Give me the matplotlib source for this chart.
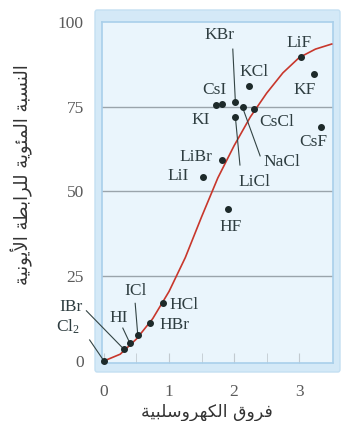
import matplotlib
matplotlib.use('Agg')
import matplotlib.pyplot as plt
from matplotlib.patches import FancyBboxPatch

# --- data ---
compounds = ['Cl2', 'IBr', 'HI', 'ICl', 'HBr', 'HCl', 'HF', 'LiI', 'LiBr', 'LiCl',
             'KI', 'CsI', 'KBr', 'NaCl', 'CsCl', 'KCl', 'KF', 'CsF', 'LiF']
en_diff = [0.0, 0.31, 0.40, 0.52, 0.71, 0.90, 1.91, 1.52, 1.82, 2.02,
           1.72, 1.82, 2.02, 2.13, 2.31, 2.23, 3.23, 3.34, 3.03]
ionic_pct = [0.0, 3.4, 5.2, 7.6, 11.1, 17.0, 44.7, 54.4, 59.3, 71.9,
             75.6, 75.9, 76.3, 74.8, 74.3, 81.2, 84.7, 68.9, 89.7]

curve_x = [0, 0.25, 0.5, 0.75, 1.0, 1.25, 1.5, 1.75, 2.0, 2.25, 2.5, 2.75, 3.0, 3.25, 3.5]
curve_y = [0, 2.0, 6.5, 12.5, 20.5, 30.5, 42.5, 54, 63.5, 72, 79, 85, 89.5, 92, 93.5]

x_ticks = [0, 1, 2, 3]
y_ticks = [0, 25, 50, 75, 100]
grid_y = [25, 50, 75]

x_title = 'فروق الكهروسلبية'
y_title = 'النسبة المئوية للرابطة الأيونية'

# label placement (text centre) and leader lines
label_pos = {
    'LiF': (3.0, 93.8), 'KBr': (1.78, 96.2), 'KCl': (2.31, 85.3), 'KF': (3.09, 80),
    'CsI': (1.69, 80), 'KI': (1.48, 71.1), 'CsCl': (2.66, 70.5), 'CsF': (3.22, 64.6),
    'NaCl': (2.74, 58.7), 'LiCl': (2.32, 52.8), 'LiBr': (1.42, 60.2), 'LiI': (1.14, 54.6),
    'HF': (1.94, 39.5), 'HCl': (1.23, 16.5), 'HBr': (1.08, 10.6), 'ICl': (0.48, 20.5),
    'HI': (0.23, 12.7), 'IBr': (-0.51, 15.9), 'Cl2': (-0.55, 10),
}
leader_start = {
    'KBr': (1.98, 92), 'NaCl': (2.40, 60.5), 'LiCl': (2.09, 57.8), 'Cl2': (-0.22, 6.2),
    'IBr': (-0.27, 14.8), 'HI': (0.29, 9.7), 'ICl': (0.48, 17),
}

# --- simple arabic shaping (matplotlib does no joining itself) ---
FORMS = {
    'ا': ('\ufe8d', '\ufe8e', None, None),
    'أ': ('\ufe83', '\ufe84', None, None),
    'ب': ('\ufe8f', '\ufe90', '\ufe91', '\ufe92'),
    'ة': ('\ufe93', '\ufe94', None, None),
    'ر': ('\ufead', '\ufeae', None, None),
    'س': ('\ufeb1', '\ufeb2', '\ufeb3', '\ufeb4'),
    'ط': ('\ufec1', '\ufec2', '\ufec3', '\ufec4'),
    'ف': ('\ufed1', '\ufed2', '\ufed3', '\ufed4'),
    'ق': ('\ufed5', '\ufed6', '\ufed7', '\ufed8'),
    'ك': ('\ufed9', '\ufeda', '\ufedb', '\ufedc'),
    'ل': ('\ufedd', '\ufede', '\ufedf', '\ufee0'),
    'م': ('\ufee1', '\ufee2', '\ufee3', '\ufee4'),
    'ن': ('\ufee5', '\ufee6', '\ufee7', '\ufee8'),
    'ه': ('\ufee9', '\ufeea', '\ufeeb', '\ufeec'),
    'و': ('\ufeed', '\ufeee', None, None),
    'ي': ('\ufef1', '\ufef2', '\ufef3', '\ufef4'),
    'ئ': ('\ufe89', '\ufe8a', '\ufe8b', '\ufe8c'),
}
LAM_ALEF = {'ا': ('\ufefb', '\ufefc'), 'أ': ('\ufef7', '\ufef8')}


def shape(text):
    letters = []
    i = 0
    while i < len(text):
        c = text[i]
        if c == 'ل' and i + 1 < len(text) and text[i + 1] in LAM_ALEF:
            letters.append(('LA', text[i + 1]))
            i += 2
        else:
            letters.append((c, None))
            i += 1

    def joins_next(item):
        return item[0] in FORMS and FORMS[item[0]][2] is not None

    def joins_prev(item):
        return item[0] == 'LA' or item[0] in FORMS

    res = []
    for k, item in enumerate(letters):
        c, a = item
        p = k > 0 and joins_next(letters[k - 1]) and joins_prev(item)
        n = k + 1 < len(letters) and joins_next(item) and joins_prev(letters[k + 1])
        if c == 'LA':
            res.append(LAM_ALEF[a][1 if p else 0])
        elif c in FORMS:
            f = FORMS[c]
            res.append(f[3] if (p and n) else f[1] if p else f[2] if n else f[0])
        else:
            res.append(c)
    return ''.join(reversed(res))


serif = ['Liberation Serif', 'DejaVu Serif']
W, H = 346, 421

fig = plt.figure(figsize=(W / 100, H / 100), dpi=100)

# light blue outer band behind the plot box
band = FancyBboxPatch((95 / W, 1 - 372 / H), 245 / W, 362 / H,
                      boxstyle='round,pad=0,rounding_size=0.006',
                      transform=fig.transFigure, facecolor='#d4e9f7',
                      edgecolor='#c3dff2', lw=1, zorder=-1)
fig.patches.append(band)

ax = fig.add_axes([102 / W, 1 - 363 / H, 231 / W, 341 / H])
ax.set_zorder(1)
ax.set_facecolor('#eaf5fc')
for s in ax.spines.values():
    s.set_color('#a9cfea')
    s.set_linewidth(1.2)

ax.set_xlim(-0.03, 3.52)
ax.set_ylim(-0.6, 100)

for gy in grid_y:
    ax.axhline(gy, color='#9aa4ab', lw=1.0, zorder=1)

ax.plot(curve_x, curve_y, color='#c8372c', lw=1.2, zorder=3)
ax.plot(en_diff, ionic_pct, 'o', color='#1d2a2a', ms=4, zorder=4, clip_on=False)

pts = dict(zip(compounds, zip(en_diff, ionic_pct)))
for name, (sx, sy) in leader_start.items():
    px, py = pts[name]
    ax.plot([sx, px], [sy, py], color='#334444', lw=0.8, zorder=3, clip_on=False)

for name, (lx, ly) in label_pos.items():
    txt = r'$\mathregular{Cl_2}$' if name == 'Cl2' else name
    ax.text(lx, ly, txt, ha='center', va='center', fontsize=12.5,
            family=serif, color='#2e3d40', zorder=5, clip_on=False)

ax.set_xticks(x_ticks)
ax.set_xticks([0.5, 1.5, 2.5], minor=True)
ax.set_yticks(y_ticks)
ax.tick_params(axis='x', which='both', direction='in', length=7, color='#c2cad0',
               pad=15, labelsize=12.5, labelcolor='#5a5a5a')
ax.tick_params(axis='y', length=0, pad=13, labelsize=12.5, labelcolor='#5a5a5a')
for lab in ax.get_xticklabels() + ax.get_yticklabels():
    lab.set_family(serif)

fig.text(207 / W, 1 - 412 / H, shape(x_title), ha='center', va='center',
         fontsize=12.5, family=['DejaVu Sans'], color='#333333')
fig.text(22 / W, 1 - 175 / H, shape(y_title), ha='center', va='center',
         rotation=90, fontsize=13, family=['DejaVu Sans'], color='#333333')

fig.savefig('out.png', dpi=100)
